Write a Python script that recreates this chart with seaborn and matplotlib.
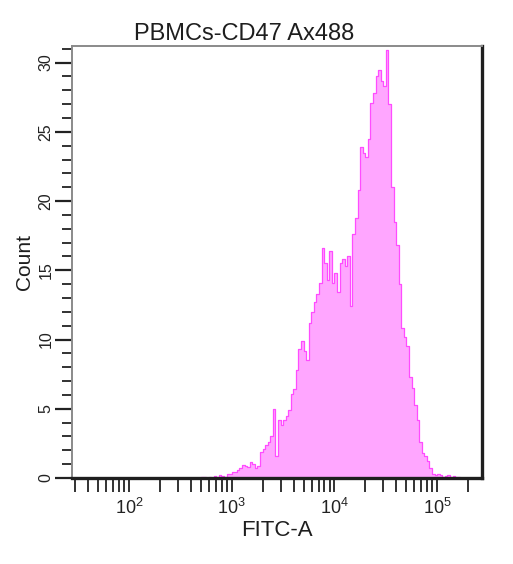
import numpy as np
import pandas as pd
import matplotlib
matplotlib.use("Agg")
import matplotlib.pyplot as plt
import matplotlib.ticker as mticker
import seaborn as sns

# histogram: log10(FITC-A) bins, 0.025 decade wide
fitc_log_start = 2.70
fitc_log_step = 0.025
counts = [
    0.05, 0.1, 0.0, 0.05, 0.0, 0.15, 0.1, 0.2, 0.15, 0.1,
    0.27, 0.3, 0.4, 0.46, 0.6, 0.75, 0.94, 0.85, 0.82, 1.18,
    1.0, 0.7, 0.85, 1.9, 2.1, 2.4, 2.6, 3.0, 5.0, 1.6,
    4.2, 3.8, 4.2, 4.5, 4.9, 6.1, 6.4, 7.8, 9.3, 9.9,
    9.2, 8.5, 11.2, 12.0, 12.7, 13.3, 14.1, 16.6, 15.5, 14.3,
    16.4, 14.1, 14.8, 13.4, 15.5, 15.8, 15.3, 16.0, 12.4, 17.6,
    18.8, 20.8, 23.9, 23.5, 23.2, 24.5, 27.1, 27.8, 29.0, 29.5,
    28.7, 28.3, 30.9, 27.0, 21.0, 18.5, 16.8, 14.0, 10.8, 10.2,
    9.5, 7.3, 6.5, 5.3, 4.2, 2.6, 1.8, 1.6, 1.2, 0.7,
    0.3, 0.2, 0.3, 0.25, 0.1, 0.15, 0.2, 0.1, 0.15, 0.1,
    0.05, 0.0, 0.0, 0.0,
]
x_major = [1e2, 1e3, 1e4, 1e5]
x_major_labels = [r"$10^2$", r"$10^3$", r"$10^4$", r"$10^5$"]
y_major = [0, 5, 10, 15, 20, 25, 30]

title = "PBMCs-CD47 Ax488"
xlabel = "FITC-A"
ylabel = "Count"

edges = 10 ** (fitc_log_start + fitc_log_step * np.arange(len(counts) + 1))
df = pd.DataFrame({"fitc": np.sqrt(edges[:-1] * edges[1:]), "count": counts})

sns.set_style("white")
plt.rcParams["font.family"] = ["Liberation Sans", "DejaVu Sans"]
plt.rcParams["mathtext.fontset"] = "custom"
plt.rcParams["mathtext.rm"] = "Liberation Sans"
plt.rcParams["mathtext.it"] = "Liberation Sans"
plt.rcParams["mathtext.default"] = "regular"

fig = plt.figure(figsize=(5.13, 5.64), dpi=100)
ax = fig.add_axes([72 / 513, 1 - 478 / 564, 410 / 513, 432 / 564])

sns.histplot(data=df, x="fitc", weights="count", bins=edges.tolist(),
             element="step", fill=True, facecolor="#ffa6ff",
             edgecolor="#ff4cff", linewidth=0.9, alpha=1, ax=ax)

ax.set_xscale("log")
ax.set_xlim(27.9, 2.73e5)
ax.set_ylim(0, 31.2)

ax.set_xticks(x_major)
ax.set_xticklabels(x_major_labels)
ax.xaxis.set_minor_locator(mticker.LogLocator(base=10, subs=np.arange(2, 10)))
ax.xaxis.set_minor_formatter(mticker.NullFormatter())
ax.set_yticks(y_major)
ax.yaxis.set_minor_locator(mticker.MultipleLocator(1))

ax.tick_params(axis="x", which="both", direction="out", length=10, width=1.3,
               color="#222222", bottom=True, labelsize=13, pad=4,
               labelcolor="#222222")
ax.tick_params(axis="y", which="major", direction="out", length=12, width=1.6,
               color="#222222", left=True, labelsize=11.5, pad=1.5,
               labelcolor="#222222", labelrotation=90)
ax.tick_params(axis="y", which="minor", direction="out", length=7.5, width=1.3,
               color="#222222", left=True)
for lab in ax.get_yticklabels():
    lab.set_va("center")

for side in ["left", "top"]:
    ax.spines[side].set_color("#8a8a8a")
    ax.spines[side].set_linewidth(1.4)
for side in ["right", "bottom"]:
    ax.spines[side].set_color("#1e1e1e")
    ax.spines[side].set_linewidth(2.4)
ax.grid(False)

ax.set_title(title, fontsize=17, pad=4, x=0.421, color="#1e1e1e")
ax.set_xlabel(xlabel, fontsize=16, labelpad=2, color="#1e1e1e")
ax.set_ylabel(ylabel, fontsize=15, labelpad=3, color="#1e1e1e")

fig.savefig("out.png", dpi=100)
